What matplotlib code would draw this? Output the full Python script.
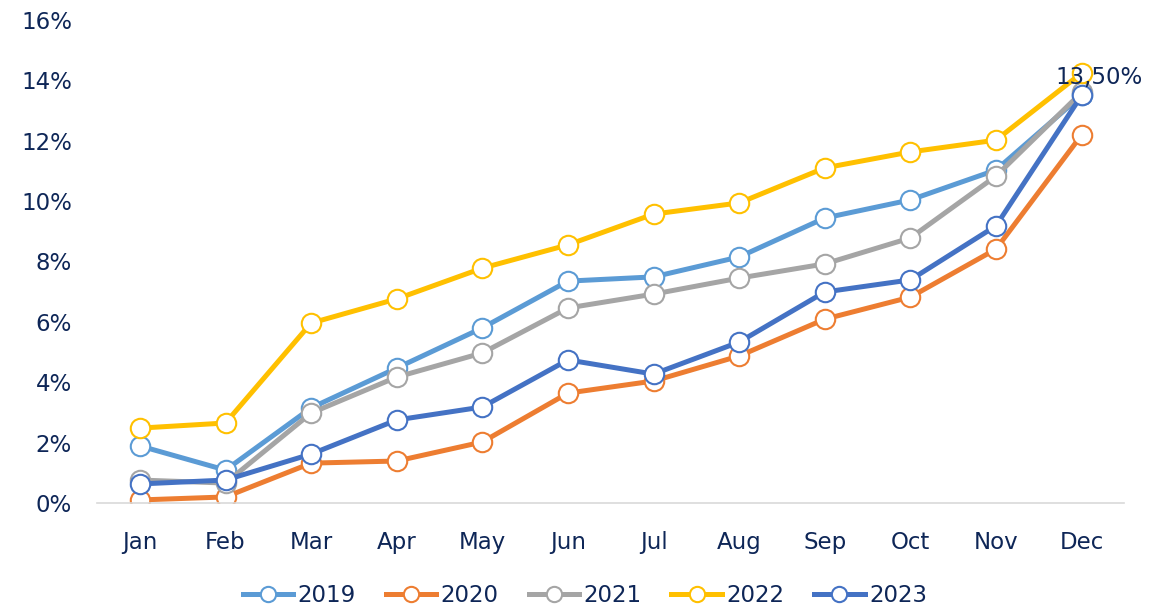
import matplotlib
matplotlib.use('Agg')
import matplotlib.pyplot as plt
from matplotlib.ticker import FuncFormatter

months = ['Jan', 'Feb', 'Mar', 'Apr', 'May', 'Jun', 'Jul', 'Aug', 'Sep', 'Oct', 'Nov', 'Dec']

y2019 = [1.89, 1.09, 3.15, 4.47, 5.80, 7.35, 7.49, 8.15, 9.44, 10.04, 11.03, 13.50]
y2020 = [0.10, 0.20, 1.32, 1.39, 2.02, 3.64, 4.04, 4.87, 6.09, 6.82, 8.41, 12.19]
y2021 = [0.76, 0.66, 2.98, 4.17, 4.97, 6.46, 6.92, 7.45, 7.92, 8.78, 10.83, 13.60]
y2022 = [2.48, 2.65, 5.96, 6.76, 7.78, 8.55, 9.57, 9.94, 11.10, 11.63, 12.02, 14.24]
y2023 = [0.63, 0.76, 1.62, 2.75, 3.18, 4.74, 4.27, 5.33, 6.99, 7.39, 9.18, 13.50]

series = [('2019', y2019, '#5B9BD5'),
          ('2020', y2020, '#ED7D31'),
          ('2021', y2021, '#A5A5A5'),
          ('2022', y2022, '#FFC000'),
          ('2023', y2023, '#4472C4')]

txt = '#0E2657'
plt.rcParams['font.family'] = ['DejaVu Sans']

fig = plt.figure(figsize=(11.7, 6.06), dpi=100)
ax = fig.add_axes([0.083, 0.170, 0.878, 0.797])

x = list(range(len(months)))
for name, vals, col in series:
    ax.plot(x, vals, color=col, linewidth=3.6, marker='o', markersize=14,
            markerfacecolor='white', markeredgecolor=col, markeredgewidth=1.5,
            label=name)

# data label on the last 2023 point
ax.text(x[-1] + 0.2, y2023[-1] + 0.6, '13,50%', color=txt, fontsize=16.5,
        ha='center', va='center')

ax.set_xlim(-0.5, 11.5)
ax.set_ylim(0, 16)
ax.set_yticks(range(0, 17, 2))
ax.yaxis.set_major_formatter(FuncFormatter(lambda v, p: f'{int(v)}%'))
ax.set_xticks(x)
ax.set_xticklabels(months)

for s in ['top', 'right', 'left']:
    ax.spines[s].set_visible(False)
ax.spines['bottom'].set_color('#D9D9D9')
ax.spines['bottom'].set_linewidth(1.2)
ax.tick_params(axis='both', length=0, labelsize=16.5, labelcolor=txt)
ax.tick_params(axis='x', pad=20)
ax.tick_params(axis='y', pad=18)

leg = fig.legend(loc='lower center', bbox_to_anchor=(0.5, -0.035), ncol=5,
                 frameon=False, fontsize=16.5, handlelength=2.2,
                 columnspacing=1.3, handletextpad=0.2, labelcolor=txt)
for h in leg.legend_handles:
    h.set_markersize(11)

fig.savefig('out.png', dpi=100)
